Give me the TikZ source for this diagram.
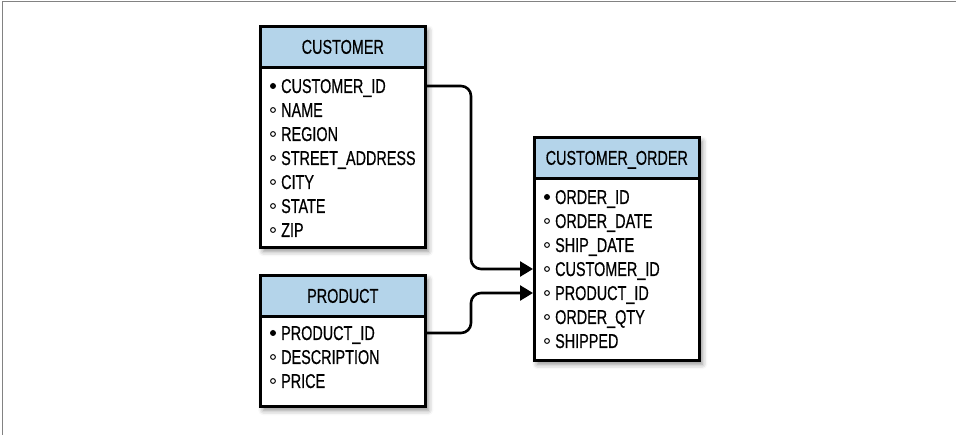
\documentclass[tikz,border=0pt]{standalone}
\usepackage{fontspec}
\setmainfont{Liberation Sans}[FakeStretch=0.72, FakeBold=0.5]
\usetikzlibrary{arrows.meta,shadows.blur}

\definecolor{hdrblue}{RGB}{180,212,234}
\definecolor{framegray}{RGB}{130,130,130}

\tikzset{
    tblbox/.style={draw, line width=2.6pt, fill=white, anchor=north west,
        minimum width=165pt,
        blur shadow={shadow xshift=3pt, shadow yshift=-4pt, shadow blur radius=5pt, shadow opacity=45}},
    tblhead/.style={draw, line width=2.6pt, fill=hdrblue, anchor=north,
        minimum width=165pt, minimum height=41pt, inner sep=0pt,
        text height=14pt, text depth=0pt, font=\fontsize{20}{22}\selectfont},
    field/.style={anchor=west, inner sep=0pt, text height=14pt, text depth=0pt,
        font=\fontsize{20}{22}\selectfont},
    pkey/.style={fill=black},
    attr/.style={line width=1pt},
    conn/.style={line width=2.6pt, rounded corners=10pt, -{Triangle[length=13pt,width=15pt]}},
}

\begin{document}
\begin{tikzpicture}[x=1pt,y=-1pt]
    \useasboundingbox (0,0) rectangle (956,435);
    \draw[framegray, line width=1pt] (956,2) -- (2,2) -- (2,435);

    % customer table
    \node[tblbox, minimum height=221pt] (customer) at (259,25) {};
    \node[tblhead] (customer-h) at (customer.north) {CUSTOMER};
    \node[field] (cust-1) at (281,86) {CUSTOMER\_ID};
    \fill[pkey] ([xshift=-8pt]cust-1.west) circle (3pt);
    \foreach \fld [count=\i from 2] in {NAME, REGION, STREET\_ADDRESS, CITY, STATE, ZIP} {
        \node[field] (cust-\i) at (281,{62+24*\i}) {\fld};
        \draw[attr] ([xshift=-8pt]cust-\i.west) circle (2.4pt);
    }

    % product table
    \node[tblbox, minimum height=131pt] (product) at (259,274) {};
    \node[tblhead] (product-h) at (product.north) {PRODUCT};
    \node[field] (prod-1) at (281,333) {PRODUCT\_ID};
    \fill[pkey] ([xshift=-8pt]prod-1.west) circle (3pt);
    \foreach \fld [count=\i from 2] in {DESCRIPTION, PRICE} {
        \node[field] (prod-\i) at (281,{309+24*\i}) {\fld};
        \draw[attr] ([xshift=-8pt]prod-\i.west) circle (2.4pt);
    }

    % customer_order table
    \node[tblbox, minimum height=223pt] (order) at (533,136) {};
    \node[tblhead] (order-h) at (order.north) {CUSTOMER\_ORDER};
    \node[field] (ord-1) at (555,197) {ORDER\_ID};
    \fill[pkey] ([xshift=-8pt]ord-1.west) circle (3pt);
    \foreach \fld [count=\i from 2] in {ORDER\_DATE, SHIP\_DATE, CUSTOMER\_ID, PRODUCT\_ID, ORDER\_QTY, SHIPPED} {
        \node[field] (ord-\i) at (555,{173+24*\i}) {\fld};
        \draw[attr] ([xshift=-8pt]ord-\i.west) circle (2.4pt);
    }

    % relations
    \coordinate (jog) at (471,0);
    \draw[conn] (customer.east |- cust-1) -| (jog |- ord-4) -- (order.west |- ord-4);
    \draw[conn] (product.east |- prod-1) -| (jog |- ord-5) -- (order.west |- ord-5);
\end{tikzpicture}
\end{document}
